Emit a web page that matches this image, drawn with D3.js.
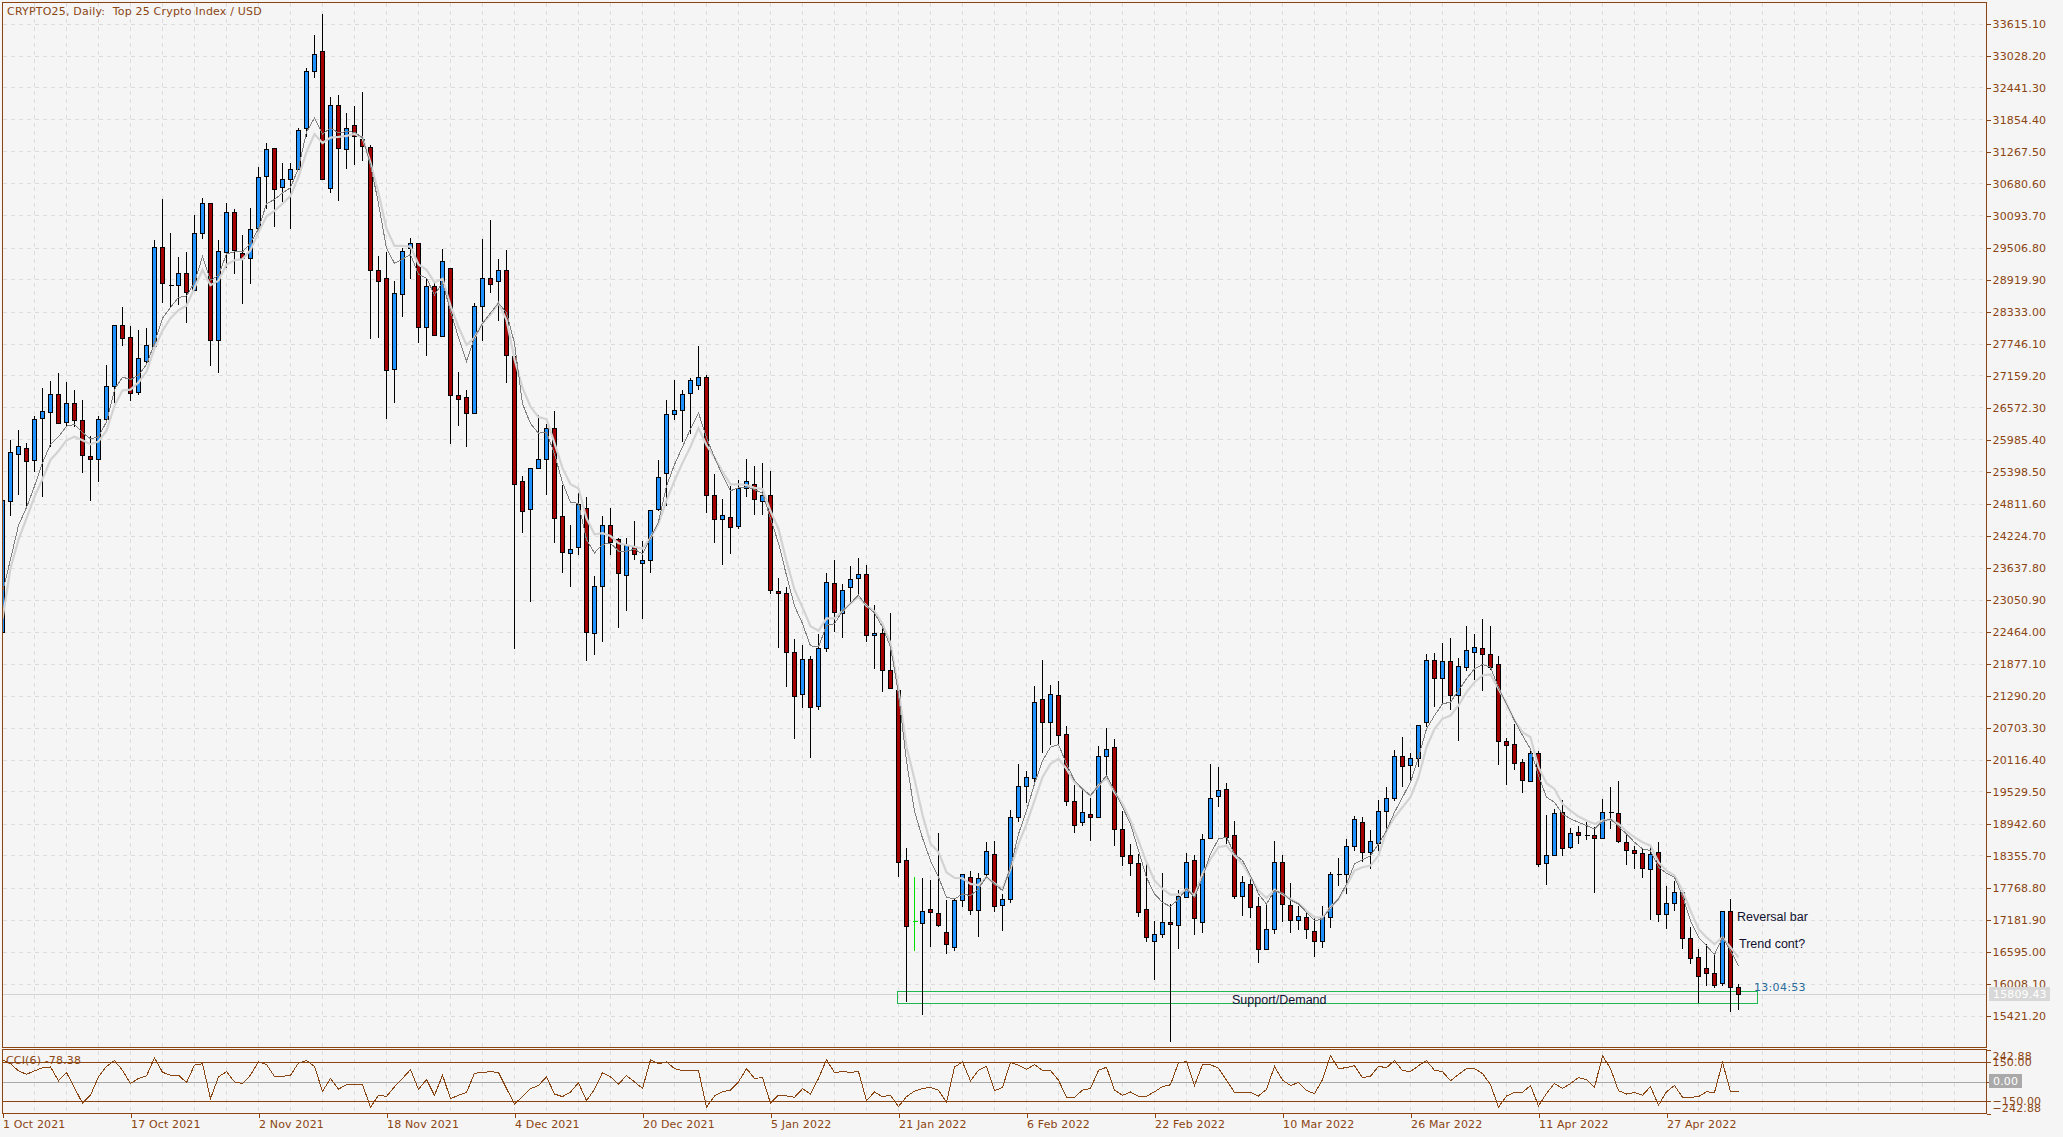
<!DOCTYPE html>
<html>
<head>
<meta charset="utf-8">
<title>CRYPTO25, Daily</title>
<script src="https://cdn.jsdelivr.net/npm/d3@7"></script>
<style>
  html, body { margin: 0; padding: 0; background: #f5f5f5; }
  svg { display: block; }
  text { font-family: 'DejaVu Sans', sans-serif; font-size: 11px; fill: #8b4513; white-space: pre; letter-spacing: 0.15px; }
  .axis text { font-family: 'DejaVu Sans', sans-serif; font-size: 11px; fill: #8b4513; }
  .axis line { stroke: #8b4513; }
  .axis path { display: none; }
  .grid line { stroke: #dcdcdc; stroke-dasharray: 4 4; shape-rendering: crispEdges; }
  .frame { fill: none; stroke: #8b4513; shape-rendering: crispEdges; }
  .wick { stroke: #000; shape-rendering: crispEdges; }
  .body { stroke: #000; shape-rendering: crispEdges; }
  .note { font-family: 'Liberation Sans', sans-serif; font-size: 12.5px; fill: #101030; letter-spacing: 0; }
</style>
</head>
<body>
<svg id="chart" width="2063" height="1137"></svg>
<script>
// daily bars, 1 Oct 2021 onward, one row per day: open, high, low, close
const opens = [
  22447, 24856, 25721, 25833, 25610, 26364, 26495, 26829, 26304, 26658, 26350, 25688, 25629, 26364, 26967, 28094,
  27871, 26855, 27425, 27688, 29510, 28810, 28802, 29044, 28717, 29759, 30316, 27812, 29425, 30165, 29405, 29300,
  29870, 30808, 31326, 30605, 30755, 30932, 31693, 32735, 33102, 30592, 32112, 31326, 31745, 31490, 31358, 29103,
  28953, 27262, 28658, 29497, 29595, 28048, 28808, 27884, 29136, 26809, 26770, 26475, 28441, 28953, 28883, 29085,
  27524, 25230, 24712, 25466, 25630, 26200, 24587, 23919, 24010, 24732, 22450, 23296, 24423, 24168, 23506, 24017,
  23722, 23774, 24712, 25387, 26456, 26534, 26855, 26986, 27137, 24967, 24528, 24568, 24397, 25099, 25177, 24856,
  24967, 23211, 23171, 22090, 21316, 21965, 21093, 22162, 23355, 22817, 23296, 23460, 23525, 22398, 22437, 21756,
  21382, 18274, 17155, 17112, 17369, 17301, 16952, 16671, 17540, 17956, 17357, 18011, 18384, 17442, 17558, 19057,
  19632, 19773, 21229, 20801, 21303, 20587, 19357, 18966, 19119, 19057, 20177, 20348, 18843, 18366, 18219, 17369,
  16794, 16910, 17136, 17075, 17595, 18274, 17130, 18672, 19443, 19577, 18733, 17607, 17834, 17430, 16647, 17008,
  18238, 17448, 17167, 17228, 16971, 16781, 17228, 18011, 18011, 18525, 18972, 18415, 18586, 19167, 19406, 20183,
  20018, 20140, 20801, 21945, 21609, 21927, 21296, 21810, 22086, 22165, 22055, 21872, 20458, 20403, 20073, 19718,
  20244, 18213, 18360, 19161, 18507, 18788, 18727, 18733, 18672, 19149, 19137, 18604, 18458, 18403, 18103, 18421,
  17277, 17485, 17681, 16843, 16494, 16292, 16200, 16017, 17338, 15943
];
const highs = [
  24869, 25970, 26167, 25918, 26409, 26934, 27052, 27196, 27032, 26901, 26704, 26049, 26409, 27360, 28094, 28422,
  28061, 28002, 28028, 29641, 30388, 29772, 29326, 29418, 30100, 30408, 30316, 29641, 30323, 30205, 29733, 30231,
  30978, 31424, 31326, 31063, 31063, 31706, 32801, 33404, 33784, 32276, 32302, 31981, 32093, 32355, 31391, 29359,
  29425, 28887, 29490, 29680, 29595, 28933, 28900, 29471, 29136, 27229, 26901, 28487, 29654, 30002, 29305, 29458,
  27524, 25308, 25466, 26442, 26278, 26501, 25144, 24423, 25000, 24922, 23473, 24587, 24738, 24181, 24181, 24482,
  24115, 24692, 25603, 26718, 27072, 26888, 27118, 27694, 27177, 25348, 24902, 25131, 25243, 25636, 25505, 25557,
  25413, 23440, 23283, 22332, 22208, 22018, 22411, 23538, 23781, 23329, 23670, 23807, 23689, 22955, 22542, 22804,
  21382, 18494, 17968, 17950, 17907, 18776, 17540, 17577, 18017, 18079, 18036, 18611, 18629, 17650, 19192, 20036,
  19914, 21456, 21933, 21474, 21547, 20734, 19657, 19559, 19406, 20367, 20703, 20501, 19180, 18568, 18384, 18219,
  17161, 18030, 17467, 17724, 18397, 18360, 18751, 20036, 19987, 19687, 18990, 17987, 17956, 17589, 17467, 18629,
  18366, 17858, 17436, 17314, 17253, 17436, 18048, 18317, 18660, 19082, 19057, 18825, 19382, 19620, 20293, 20520,
  20244, 20752, 22055, 22073, 22251, 22337, 21982, 22557, 22410, 22685, 22557, 22006, 20513, 20770, 20128, 20324,
  20269, 19106, 19210, 19375, 18855, 18904, 18978, 18874, 19394, 19620, 19730, 18764, 18531, 18476, 18519, 18611,
  17803, 17883, 17693, 17051, 16641, 16732, 16549, 17344, 17558, 15998
];
const lows = [
  22447, 24574, 24967, 24770, 25393, 24935, 25839, 26291, 26213, 26213, 25380, 24856, 25197, 26364, 26652, 27701,
  26691, 26803, 27373, 27688, 28487, 28409, 28455, 28127, 28717, 29667, 27327, 27209, 29130, 29018, 28474, 28835,
  29753, 30211, 29877, 30342, 29851, 30932, 31535, 32617, 30749, 30506, 30355, 30945, 31018, 31096, 27832, 27851,
  26357, 26652, 28232, 28933, 27753, 27511, 27904, 27884, 25898, 26232, 25852, 26475, 27786, 28671, 28166, 27019,
  22149, 24266, 23014, 25466, 24961, 24096, 23545, 23276, 23860, 21932, 22024, 22280, 23860, 22529, 22831, 23768,
  22686, 23545, 24672, 24758, 26338, 25931, 26082, 26888, 24640, 24083, 23689, 23879, 24345, 24922, 24594, 24607,
  23145, 22155, 21454, 20484, 21067, 20136, 21021, 22096, 22457, 22339, 22968, 23099, 22280, 21769, 21362, 21408,
  17968, 15674, 16610, 15435, 16671, 17038, 16543, 16610, 17418, 17271, 16867, 17956, 17326, 16977, 17479, 18972,
  19314, 19700, 20232, 20391, 20373, 19271, 18776, 18892, 18629, 19057, 19822, 18537, 18170, 17987, 17222, 16763,
  16078, 16837, 14928, 16647, 17595, 16904, 16928, 18672, 19241, 18568, 17552, 17253, 17204, 16378, 16635, 16916,
  17130, 16928, 16996, 16824, 16500, 16665, 17032, 17803, 17656, 18433, 18231, 18109, 18446, 18843, 19363, 19620,
  19730, 19975, 20721, 21076, 21150, 21033, 20452, 21737, 21566, 21364, 21761, 20024, 19657, 19932, 19510, 19718,
  18140, 17821, 18360, 18354, 18476, 18568, 18647, 17675, 18672, 18849, 18592, 18188, 18109, 17944, 17179, 17142,
  17002, 17344, 16647, 16365, 15650, 15968, 15919, 15955, 15490, 15527
];
const closes = [
  24869, 25760, 25872, 25590, 26370, 26501, 26829, 26291, 26658, 26344, 25702, 25629, 26370, 26973, 28094, 27851,
  26842, 27471, 27727, 29510, 28841, 28810, 29031, 28704, 29766, 30316, 27812, 29451, 30165, 29464, 29307, 29838,
  30808, 31306, 30572, 30755, 30939, 31653, 32735, 33050, 30749, 32112, 31326, 31706, 31542, 31358, 29097, 28894,
  27262, 28664, 29451, 29595, 28048, 28808, 27904, 29267, 26803, 26731, 26475, 28441, 28953, 28841, 29085, 27524,
  25177, 24673, 25466, 25636, 26200, 24548, 23919, 23984, 24797, 22450, 23303, 24423, 24115, 23538, 24050, 23886,
  23781, 24692, 25302, 26462, 26534, 26829, 27085, 27137, 24967, 24528, 24600, 24378, 25099, 25223, 24895, 24967,
  23224, 23171, 22083, 21277, 21965, 21093, 22162, 23375, 22817, 23230, 23434, 23525, 22398, 22437, 21756, 21421,
  18219, 17057, 17155, 17338, 17314, 17081, 16726, 17540, 18017, 17357, 17944, 18439, 17424, 17558, 19057, 19632,
  19798, 21174, 20801, 21321, 20562, 19351, 18917, 19155, 19057, 20183, 20312, 18837, 18341, 18213, 17314, 16855,
  16916, 17136, 17094, 17613, 18238, 17204, 18660, 19412, 19559, 18703, 17607, 17864, 17405, 16647, 17008, 18238,
  17460, 17167, 17246, 17002, 16781, 17228, 18017, 18011, 18525, 19027, 18415, 18623, 19174, 19412, 20183, 19993,
  20146, 20752, 21945, 21609, 21927, 21296, 21835, 22129, 22184, 22049, 21823, 20452, 20379, 20048, 19736, 20238,
  18213, 18366, 19137, 18507, 18770, 18727, 18727, 18672, 19155, 19149, 18617, 18452, 18397, 18121, 18384, 17277,
  17485, 17693, 16836, 16469, 16139, 16194, 15974, 17338, 15937, 15809
];

// the two moving averages
const maFast = [
  23181, 23787, 24410, 24738, 25131, 25557, 25898, 26036, 26232, 26259, 26114, 25996, 26036, 26311, 26901, 27130,
  27085, 27163, 27360, 27753, 28212, 28409, 28592, 28618, 28867, 29340, 28900, 28999, 29392, 29425, 29425, 29589,
  29851, 30310, 30388, 30506, 30605, 30965, 31621, 31883, 31588, 31699, 31608, 31634, 31621, 31522, 31031, 30310,
  29490, 29215, 29294, 29379, 29012, 28946, 28638, 28867, 28343, 27851, 27425, 27851, 28114, 28310, 28487, 28311,
  27753, 26639, 26278, 26102, 26115, 25721, 25197, 24830, 24817, 24148, 23906, 24063, 24083, 23938, 23938, 23971,
  23886, 24181, 24476, 25131, 25525, 25852, 26180, 26475, 26016, 25656, 25328, 25046, 25099, 25118, 25066, 25000,
  24541, 24083, 23493, 22935, 22608, 22201, 22182, 22575, 22608, 22837, 22981, 23132, 22935, 22804, 22542, 22182,
  21329, 20084, 19166, 18675, 18262, 17956, 17589, 17558, 17650, 17620, 17742, 17968, 17834, 17711, 18140, 18751,
  19180, 19669, 20097, 20342, 20391, 20036, 19730, 19577, 19455, 19639, 19822, 19547, 19241, 18935, 18446, 17956,
  17650, 17497, 17418, 17558, 17742, 17589, 17956, 18384, 18660, 18690, 18384, 18262, 17987, 17650, 17467, 17711,
  17662, 17540, 17467, 17314, 17161, 17191, 17405, 17558, 17834, 18201, 18274, 18354, 18568, 18813, 19149, 19424,
  19700, 20159, 20679, 20923, 21137, 21168, 21382, 21596, 21780, 21859, 21810, 21431, 21137, 20832, 20556, 20311,
  19822, 19424, 19333, 19118, 19027, 18966, 18904, 18843, 18984, 19027, 18886, 18751, 18598, 18476, 18446, 18140,
  18029, 17956, 17620, 17161, 16855, 16702, 16537, 16855, 16610, 16335
];
const maSlow = [
  22700, 23623, 24148, 24541, 24934, 25262, 25610, 25774, 25970, 26036, 25970, 25898, 25950, 26147, 26606, 26888,
  26901, 27032, 27229, 27655, 27983, 28212, 28356, 28441, 28769, 29097, 28815, 28900, 29195, 29274, 29294, 29457,
  29785, 30080, 30178, 30310, 30454, 30801, 31260, 31588, 31424, 31522, 31535, 31555, 31588, 31522, 31063, 30506,
  29851, 29536, 29536, 29523, 29195, 29097, 28867, 28933, 28441, 28048, 27720, 27851, 28114, 28278, 28487, 28179,
  27458, 26934, 26587, 26396, 26357, 25918, 25459, 25164, 25085, 24541, 24246, 24266, 24214, 24083, 24050, 24017,
  23984, 24181, 24443, 24869, 25230, 25557, 25852, 26193, 25885, 25656, 25394, 25164, 25164, 25151, 25099, 25079,
  24673, 24345, 23755, 23230, 22903, 22562, 22477, 22706, 22706, 22837, 22981, 23099, 22935, 22837, 22608, 22247,
  21395, 20346, 19756, 19101, 18576, 18415, 18048, 17944, 17938, 17834, 17815, 17956, 17846, 17742, 18109, 18568,
  18935, 19363, 19792, 20036, 20128, 19944, 19700, 19577, 19455, 19639, 19779, 19516, 19302, 18996, 18629, 18231,
  17895, 17742, 17638, 17638, 17742, 17620, 18017, 18293, 18507, 18537, 18354, 18201, 17956, 17711, 17577, 17724,
  17650, 17558, 17479, 17344, 17222, 17222, 17405, 17558, 17803, 18079, 18140, 18170, 18354, 18813, 19057, 19241,
  19424, 19791, 20342, 20679, 20862, 20923, 21107, 21352, 21535, 21657, 21676, 21413, 21137, 20832, 20617, 20526,
  19975, 19681, 19577, 19302, 19180, 19070, 18996, 18935, 18996, 19014, 18935, 18800, 18690, 18598, 18537, 18231,
  18078, 17987, 17711, 17344, 17008, 16855, 16732, 16855, 16671, 16488
];

// CCI(6) in the lower panel
const cciValues = [
  165, 135, 80, 55, 80, 105, 110, 5, 68, -48, -165, -103, 35, 115, 158, 85,
  -15, 23, 43, 180, 70, 48, 48, -8, 125, 135, -130, 35, 75, -3, -15, 48,
  150, 130, 38, 38, 48, 140, 158, 115, -75, 23, -58, -23, -23, -23, -195, -105,
  -113, -40, 23, 90, -60, 15, -105, 48, -130, -105, -83, 63, 68, 75, 68, -53,
  -170, -115, -55, -30, 35, -95, -115, -80, -10, -145, -60, 68, 35, -20, 45, -3,
  -53, 165, 135, 148, 98, 83, 83, 83, -195, -110, -78, -65, -3, 98, 23, 30,
  -165, -103, -110, -120, -55, -95, 23, 165, 68, 75, 70, 75, -145, -80, -115, -105,
  -190, -115, -73, -53, -45, -65, -158, 110, 148, 5, 85, 115, -70, -45, 145, 123,
  93, 128, 83, 83, 10, -120, -120, -65, -53, 85, 108, -65, -105, -80, -113, -113,
  -78, -38, -25, 143, 150, -30, 128, 128, 100, 10, -83, -83, -83, -110, -60, 115,
  10, -30, -8, -68, -93, 15, 195, 98, 105, 120, 30, 40, 115, 105, 158, 83,
  75, 120, 158, 85, 75, 5, 53, 98, 98, 60, -23, -195, -110, -83, -83, -30,
  -185, -90, -15, -53, -15, 30, 15, -45, 195, 98, -70, -95, -83, -105, -38, -180,
  -78, -30, -120, -120, -115, -78, -83, 145, -75, -78
];

const priceTicks = [
  33615.10, 33028.20, 32441.30, 31854.40, 31267.50, 30680.60, 30093.70, 29506.80,
  28919.90, 28333.00, 27746.10, 27159.20, 26572.30, 25985.40, 25398.50, 24811.60,
  24224.70, 23637.80, 23050.90, 22464.00, 21877.10, 21290.20, 20703.30, 20116.40,
  19529.50, 18942.60, 18355.70, 17768.80, 17181.90, 16595.00, 16008.10, 15421.20
];
const cciTicks = [242.88, 150, 0, -150, -242.88];
const dateLabels = [
  '1 Oct 2021', '17 Oct 2021', '2 Nov 2021', '18 Nov 2021', '4 Dec 2021', '20 Dec 2021', '5 Jan 2022',
  '21 Jan 2022', '6 Feb 2022', '22 Feb 2022', '10 Mar 2022', '26 Mar 2022', '11 Apr 2022', '27 Apr 2022'
];
const dateStep = 16;      // one label every 16 days
const markedDoji = 114;   // the green bar in January
const supportZone = {from: 111.75, to: 219.25, top: 15871, bottom: 15651};
const lastPrice = 15809.43;

const frame = {left: 2.5, right: 1986.5, top: 2.5, bottom: 1047.5, subTop: 1049.5, subBottom: 1113.5};
const bullColor = '#1e90ff';
const bearColor = '#a50000';

const x = d3.scaleLinear().domain([0, opens.length - 1]).range([2.5, 1738.5]);
const y = d3.scaleLinear().domain([15421.2, 33615.1]).range([1015.5, 23.5]);
const yCci = d3.scaleLinear().domain([-242.88, 242.88]).range([frame.subBottom, frame.subTop]);

const svg = d3.select('#chart');

svg.append('defs').append('clipPath').attr('id', 'main-clip')
  .append('rect')
  .attr('x', frame.left + 0.5).attr('y', frame.top)
  .attr('width', frame.right - frame.left - 0.5).attr('height', frame.bottom - frame.top);

// grid
const grid = svg.append('g').attr('class', 'grid');
grid.selectAll('line.h')
  .data(priceTicks)
  .enter().append('line')
  .attr('class', 'h')
  .attr('x1', frame.left).attr('x2', frame.right)
  .attr('y1', d => Math.round(y(d)) - 0.5 + 1).attr('y2', d => Math.round(y(d)) - 0.5 + 1);
grid.selectAll('line.v')
  .data(d3.range(4, 248, 4))
  .enter().append('line')
  .attr('class', 'v')
  .attr('x1', d => x(d)).attr('x2', d => x(d))
  .attr('y1', frame.top).attr('y2', frame.subBottom);

const main = svg.append('g').attr('clip-path', 'url(#main-clip)');

// last price line, then the support box under the candles
main.append('line')
  .attr('x1', frame.left).attr('x2', frame.right)
  .attr('y1', Math.round(y(lastPrice)) + 0.5).attr('y2', Math.round(y(lastPrice)) + 0.5)
  .attr('stroke', '#d3d3d3')
  .attr('shape-rendering', 'crispEdges');

main.append('rect')
  .attr('x', Math.round(x(supportZone.from)) + 0.5)
  .attr('y', Math.round(y(supportZone.top)) + 0.5)
  .attr('width', Math.round(x(supportZone.to) - x(supportZone.from)))
  .attr('height', Math.round(y(supportZone.bottom) - y(supportZone.top)))
  .attr('fill', 'none')
  .attr('stroke', '#1fb84f')
  .attr('shape-rendering', 'crispEdges');

// candles
const bars = d3.range(opens.length);
const candles = main.append('g');

candles.selectAll('line.wick')
  .data(bars)
  .enter().append('line')
  .attr('class', 'wick')
  .attr('x1', i => x(i)).attr('x2', i => x(i))
  .attr('y1', i => y(highs[i])).attr('y2', i => y(lows[i]))
  .style('stroke', i => i === markedDoji ? '#00e000' : null);

candles.selectAll('rect.body')
  .data(bars.filter(i => opens[i] !== closes[i]))
  .enter().append('rect')
  .attr('class', 'body')
  .attr('x', i => x(i) - 2)
  .attr('width', 4)
  .attr('y', i => Math.round(y(Math.max(opens[i], closes[i]))) + 0.5)
  .attr('height', i => Math.max(1, Math.round(Math.abs(y(opens[i]) - y(closes[i])))))
  .attr('fill', i => closes[i] > opens[i] ? bullColor : bearColor);

// dojis are only a dash across the wick
candles.selectAll('line.doji')
  .data(bars.filter(i => opens[i] === closes[i]))
  .enter().append('line')
  .attr('class', 'wick doji')
  .attr('x1', i => x(i) - 2).attr('x2', i => x(i) + 3)
  .attr('y1', i => Math.round(y(opens[i])) + 0.5).attr('y2', i => Math.round(y(opens[i])) + 0.5)
  .style('stroke', i => i === markedDoji ? '#00e000' : null);

// moving averages sit on top of the candles
const maLine = d3.line().x((d, i) => x(i)).y(d => y(d));

main.append('path')
  .attr('d', maLine(maSlow))
  .attr('fill', 'none')
  .attr('stroke', '#d3d3d3')
  .attr('stroke-width', 2.2);

main.append('path')
  .attr('d', maLine(maFast))
  .attr('fill', 'none')
  .attr('stroke', '#808080')
  .attr('stroke-width', 1)
  .attr('shape-rendering', 'crispEdges');

// lower panel
const levels = svg.append('g');
levels.selectAll('line')
  .data([150, 0, -150])
  .enter().append('line')
  .attr('x1', frame.left).attr('x2', frame.right)
  .attr('y1', d => Math.round(yCci(d)) + 0.5).attr('y2', d => Math.round(yCci(d)) + 0.5)
  .attr('stroke', d => d === 0 ? '#a9a9a9' : '#8b4513')
  .attr('shape-rendering', 'crispEdges');

svg.append('path')
  .attr('d', d3.line().x((d, i) => x(i)).y(d => yCci(d))(cciValues))
  .attr('fill', 'none')
  .attr('stroke', '#8b4513')
  .attr('stroke-width', 1)
  .attr('shape-rendering', 'crispEdges');

// frames
svg.append('rect').attr('class', 'frame')
  .attr('x', frame.left).attr('y', frame.top)
  .attr('width', frame.right - frame.left).attr('height', frame.bottom - frame.top);
svg.append('rect').attr('class', 'frame')
  .attr('x', frame.left).attr('y', frame.subTop)
  .attr('width', frame.right - frame.left).attr('height', frame.subBottom - frame.subTop);

// axes
svg.append('g')
  .attr('class', 'axis')
  .attr('transform', `translate(${frame.right}, 0)`)
  .attr('shape-rendering', 'crispEdges')
  .call(d3.axisRight(y).tickValues(priceTicks).tickSize(4).tickPadding(2).tickFormat(d3.format('.2f')));

const cciAxis = svg.append('g')
  .attr('class', 'axis')
  .attr('transform', `translate(${frame.right}, 0)`)
  .attr('shape-rendering', 'crispEdges')
  .call(d3.axisRight(yCci).tickValues(cciTicks).tickSize(4).tickPadding(2).tickFormat(d3.format('.2f')));

// the outer labels get pushed inside the panel, as the terminal does
cciAxis.selectAll('.tick text')
  .attr('y', d => d === 242.88 ? 6 : d === -242.88 ? -6 : 0);

const dateAxis = svg.append('g')
  .attr('class', 'axis')
  .attr('transform', `translate(0, ${frame.subBottom})`)
  .attr('shape-rendering', 'crispEdges')
  .call(d3.axisBottom(x)
    .tickValues(dateLabels.map((d, i) => i * dateStep))
    .tickSize(4).tickPadding(3)
    .tickFormat((d, i) => dateLabels[i]));

dateAxis.selectAll('.tick text').attr('text-anchor', 'start');

// last price and zero tags
function tag(left, top, width, height, fill, label, textX, textY) {
  svg.append('rect')
    .attr('x', left).attr('y', top)
    .attr('width', width).attr('height', height)
    .attr('fill', fill);
  svg.append('text')
    .attr('x', textX).attr('y', textY)
    .style('fill', '#fff')
    .text(label);
}
tag(1989, 987, 61, 14, '#d8d8d8', d3.format('.2f')(lastPrice), 1993, 998);
tag(1989, 1074, 33, 14, '#a9a9a9', '0.00', 1993, 1085);

// texts on the chart
svg.append('text').attr('x', 7).attr('y', 15).style('letter-spacing', '0.2px').text('CRYPTO25, Daily:  Top 25 Crypto Index / USD');
svg.append('text').attr('x', 6).attr('y', 1064).text('CCI(6) -78.38');

svg.append('text').attr('class', 'note').attr('x', 1232).attr('y', 1003.5).text('Support/Demand');
svg.append('text').attr('class', 'note').attr('x', 1737).attr('y', 921).text('Reversal bar');
svg.append('text').attr('class', 'note').attr('x', 1739).attr('y', 948).text('Trend cont?');
svg.append('text').attr('x', 1754).attr('y', 991).style('fill', '#2a6a9a').style('letter-spacing', '0.3px').text('13:04:53');
</script>
</body>
</html>
